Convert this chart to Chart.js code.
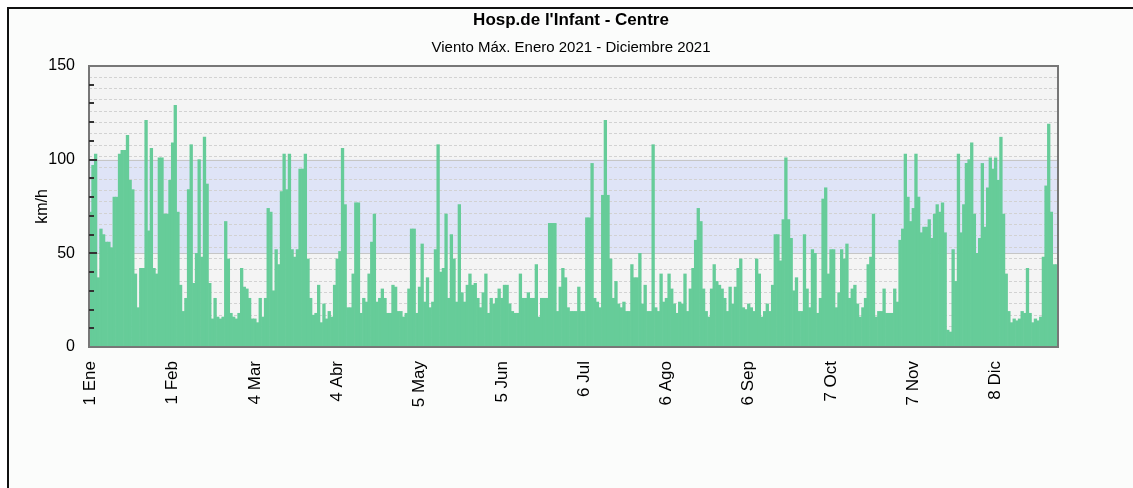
<!DOCTYPE html>
<html lang="es">
<head>
<meta charset="utf-8">
<title>Hosp.de l'Infant - Centre</title>
<script src="https://cdn.jsdelivr.net/npm/chart.js@4.4.1/dist/chart.umd.min.js"></script>
<style>
  html, body { margin: 0; padding: 0; background: #fff; }
  #marco {
    position: absolute; left: 7px; top: 7px; width: 1126px; height: 481px;
    border-top: 2px solid #111; border-left: 2px solid #111; background: #fbfcfb;
  }
  #grafico { display: block; }
</style>
</head>
<body>
<div id="marco"><canvas id="grafico" width="1124" height="479"></canvas></div>
<script>
// dias del año donde va una etiqueta en el eje x
const tickDays = [0, 31, 62, 93, 124, 155, 186, 217, 248, 279, 310, 341];
const tickLabels = ['1 Ene', '1 Feb', '4 Mar', '4 Abr', '5 May', '5 Jun', '6 Jul', '6 Ago', '6 Sep', '7 Oct', '7 Nov', '8 Dic'];

// viento maximo diario (km/h), 1 ene - 31 dic 2021
const vientoMax = [
  72, 97, 103, 37, 63, 60, 56, 56, 53, 80,
  80, 103, 105, 105, 113, 89, 84, 39, 21, 42,
  42, 121, 62, 106, 42, 39, 101, 101, 71, 71,
  89, 109, 129, 72, 33, 19, 26, 84, 108, 34,
  50, 100, 48, 112, 87, 34, 15, 26, 16, 15,
  16, 67, 47, 18, 16, 15, 18, 42, 32, 31,
  26, 15, 15, 13, 26, 16, 26, 74, 72, 30,
  52, 44, 83, 103, 84, 103, 52, 48, 52, 95,
  95, 103, 47, 26, 17, 18, 33, 13, 23, 15,
  19, 16, 33, 47, 51, 106, 76, 21, 21, 39,
  77, 77, 18, 26, 24, 39, 56, 71, 24, 26,
  31, 26, 18, 18, 33, 32, 19, 19, 16, 18,
  31, 63, 63, 18, 32, 55, 24, 37, 21, 24,
  52, 108, 40, 42, 71, 26, 60, 47, 24, 76,
  29, 24, 33, 39, 33, 34, 26, 21, 29, 39,
  18, 26, 23, 26, 31, 26, 33, 33, 23, 19,
  18, 18, 39, 26, 26, 29, 26, 26, 44, 16,
  26, 26, 26, 66, 66, 66, 19, 32, 42, 37,
  21, 19, 19, 19, 32, 19, 19, 69, 69, 98,
  26, 24, 21, 81, 121, 81, 47, 26, 35, 23,
  21, 24, 19, 19, 44, 37, 37, 50, 23, 33,
  19, 19, 108, 21, 19, 39, 24, 26, 39, 31,
  23, 18, 24, 23, 39, 19, 31, 42, 57, 74,
  67, 31, 19, 16, 31, 44, 35, 33, 31, 26,
  19, 32, 23, 32, 42, 47, 21, 20, 23, 21,
  19, 47, 39, 16, 19, 23, 19, 33, 60, 60,
  46, 68, 101, 68, 58, 30, 37, 19, 19, 60,
  31, 21, 52, 50, 18, 26, 79, 85, 39, 52,
  52, 21, 29, 52, 47, 55, 26, 31, 33, 23,
  16, 21, 26, 44, 48, 71, 16, 19, 19, 31,
  18, 18, 18, 31, 24, 57, 63, 103, 80, 67,
  74, 103, 80, 61, 64, 64, 68, 58, 71, 76,
  72, 77, 61, 9, 8, 52, 35, 103, 61, 76,
  98, 100, 109, 71, 50, 58, 98, 64, 85, 101,
  95, 101, 89, 112, 71, 39, 19, 13, 15, 14,
  15, 19, 18, 42, 18, 13, 15, 14, 16, 48,
  86, 119, 72, 44, 44
];

const dias = vientoMax.map((v, i) => i + 1);

// franja azul entre 50 y 100 km/h
const bandaBaja = 50;
const bandaAlta = 100;

const fuente = "'Liberation Sans', Arial, sans-serif";

// fondo gris, franja, lineas punteadas y marco del area de dibujo
const fondoPlot = {
  id: 'fondoPlot',
  beforeDraw(chart) {
    const { ctx, chartArea: a, scales: { y } } = chart;
    const yAlta = y.getPixelForValue(bandaAlta);
    const yBaja = y.getPixelForValue(bandaBaja);
    ctx.save();
    ctx.fillStyle = '#f4f4f4';
    ctx.fillRect(a.left, a.top, a.right - a.left, a.bottom - a.top);
    ctx.fillStyle = '#dfe4f7';
    ctx.fillRect(a.left, yAlta, a.right - a.left, yBaja - yAlta);

    ctx.strokeStyle = '#d2d2d2';
    ctx.lineWidth = 1;
    ctx.setLineDash([3, 2]);
    for (let v = 144.3; v > 2; v -= 6.05) {
      const py = Math.round(y.getPixelForValue(v)) + 0.5;
      ctx.beginPath();
      ctx.moveTo(a.left, py);
      ctx.lineTo(a.right, py);
      ctx.stroke();
    }
    ctx.setLineDash([]);
    ctx.strokeStyle = '#c6c6c6';
    [yAlta, yBaja].forEach(p => {
      const py = Math.round(p) + 0.5;
      ctx.beginPath();
      ctx.moveTo(a.left, py);
      ctx.lineTo(a.right, py);
      ctx.stroke();
    });
    ctx.restore();
  },
  afterDatasetsDraw(chart) {
    const { ctx, chartArea: a, scales: { y } } = chart;
    ctx.save();
    ctx.strokeStyle = '#777';
    ctx.lineWidth = 2;
    ctx.strokeRect(a.left, a.top, a.right - a.left, a.bottom - a.top);
    // marcas hacia dentro cada 10 km/h
    ctx.strokeStyle = '#333';
    ctx.lineWidth = 2;
    for (let v = 10; v < 150; v += 10) {
      const py = Math.round(y.getPixelForValue(v));
      const largo = v % 50 === 0 ? 8 : 5;
      ctx.beginPath();
      ctx.moveTo(a.left, py);
      ctx.lineTo(a.left + largo, py);
      ctx.stroke();
    }
    ctx.restore();
  }
};

new Chart(document.getElementById('grafico'), {
  type: 'bar',
  data: {
    labels: dias,
    datasets: [{
      label: 'Viento Máx. (km/h)',
      data: vientoMax,
      backgroundColor: '#66cc99',
      borderWidth: 0,
      barPercentage: 1,
      categoryPercentage: 1
    }]
  },
  options: {
    responsive: false,
    animation: false,
    layout: { padding: 0 },
    plugins: {
      legend: { display: false },
      tooltip: { enabled: false },
      title: {
        display: true,
        text: "Hosp.de l'Infant - Centre",
        color: '#000',
        font: { family: fuente, size: 17, weight: 'bold' },
        padding: { top: 1, bottom: 8 }
      },
      subtitle: {
        display: true,
        text: 'Viento Máx. Enero 2021 - Diciembre 2021',
        color: '#000',
        font: { family: fuente, size: 15 },
        padding: { top: 0, bottom: 9.6 }
      }
    },
    scales: {
      x: {
        grid: { display: false, drawTicks: false },
        border: { display: false },
        ticks: {
          autoSkip: false,
          minRotation: 90,
          maxRotation: 90,
          padding: 14,
          color: '#000',
          font: { family: fuente, size: 17 },
          callback: (v, i) => {
            const k = tickDays.indexOf(i);
            return k >= 0 ? tickLabels[k] : null;
          }
        },
        afterFit: s => { s.height = 141; }
      },
      y: {
        min: 0,
        max: 150,
        grid: { display: false, drawTicks: false },
        border: { display: false },
        ticks: {
          stepSize: 50,
          padding: 14,
          color: '#000',
          font: { family: fuente, size: 16 }
        },
        title: {
          display: true,
          text: 'km/h',
          color: '#000',
          font: { family: fuente, size: 16 },
          padding: { top: 24, bottom: 0 }
        },
        afterFit: s => { s.width = 80; }
      },
      // eje vacio a la derecha, solo para reservar el margen
      margenDer: {
        position: 'right',
        min: 0,
        max: 150,
        grid: { display: false, drawTicks: false },
        border: { display: false },
        ticks: { display: false },
        afterFit: s => { s.width = 75; }
      }
    }
  },
  plugins: [fondoPlot]
});
</script>
</body>
</html>
